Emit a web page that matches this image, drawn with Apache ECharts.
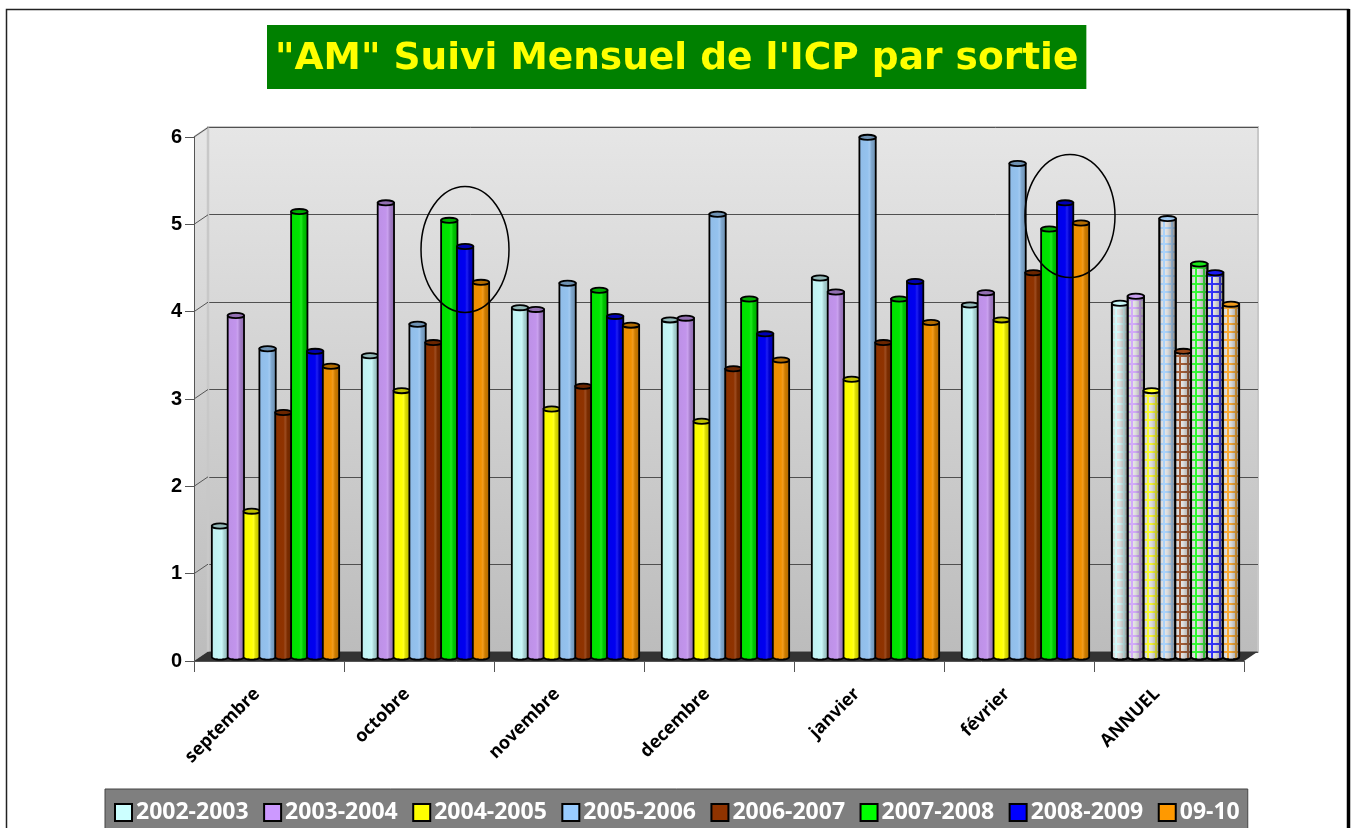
<!DOCTYPE html>
<html><head><meta charset="utf-8">
<style>html,body{margin:0;padding:0;background:#fff;overflow:hidden}#c{width:1353px;height:828px}</style>
<script src="https://cdn.jsdelivr.net/npm/echarts@6/dist/echarts.min.js"></script>
</head><body><div id="c"></div>
<script>
const categories = ['septembre','octobre','novembre','decembre','janvier','février','ANNUEL'];
const seriesNames = ['2002-2003','2003-2004','2004-2005','2005-2006','2006-2007','2007-2008','2008-2009','09-10'];
const v2002 = [1.50,3.45,4.00,3.86,4.34,4.03,4.05];
const v2003 = [3.91,5.20,3.98,3.88,4.18,4.17,4.13];
const v2004 = [1.67,3.05,2.84,2.70,3.18,3.86,3.05];
const v2005 = [3.53,3.81,4.28,5.07,5.95,5.65,5.02];
const v2006 = [2.80,3.60,3.10,3.30,3.60,4.40,3.50];
const v2007 = [5.10,5.00,4.20,4.10,4.10,4.90,4.50];
const v2008 = [3.50,4.70,3.90,3.70,4.30,5.20,4.40];
const v0910 = [3.33,4.29,3.80,3.40,3.83,4.97,4.04];
const allValues = [v2002,v2003,v2004,v2005,v2006,v2007,v2008,v0910];
const colors = ['#C4F6F6','#C294EC','#FFFF00','#94C2EE','#8F3300','#00E600','#0000F0','#F09000'];
const legendColors = ['#CCFFFF','#CC99FF','#FFFF00','#99CCFF','#8F3300','#00FF00','#0000FF','#FF9900'];
const yTicks = [0,1,2,3,4,5,6];
const patternCat = 'ANNUEL';

const chart = echarts.init(document.getElementById('c'), null, {renderer:'canvas'});
const G = echarts.graphic;

function shade(hex, f){
  const n = parseInt(hex.slice(1),16);
  const c = [n>>16,(n>>8)&255,n&255].map(x=> f<0 ? Math.round(x*(1+f)) : Math.round(x+(255-x)*f));
  return 'rgb('+c.join(',')+')';
}
function bodyGrad(col){
  return new G.LinearGradient(0,0,1,0,[
    {offset:0,color:shade(col,-0.03)},{offset:0.5,color:col},
    {offset:0.6,color:shade(col,0.12)},{offset:0.72,color:shade(col,-0.14)},
    {offset:1,color:shade(col,-0.3)}]);
}
function pattern(col){
  const cv = document.createElement('canvas'); cv.width = 8; cv.height = 8;
  const p = cv.getContext('2d');
  p.fillStyle = '#e2e2e2'; p.fillRect(0,0,8,8);
  p.globalAlpha = 0.85;
  p.fillStyle = col; p.fillRect(3,0,2,8); p.fillRect(0,3,3,2); p.fillRect(5,3,3,2);
  return {image:cv, repeat:'repeat'};
}
const shadeGrad = new G.LinearGradient(0,0,1,0,[
  {offset:0,color:'rgba(110,110,110,0.3)'},{offset:0.35,color:'rgba(255,255,255,0.05)'},{offset:0.6,color:'rgba(110,110,110,0.22)'},{offset:1,color:'rgba(40,40,40,0.6)'}]);

function cylinder(si){
  const col = colors[si];
  const pat = pattern(legendColors[si]);
  return function(params, api){
    const cat = api.value(0), val = api.value(1);
    const top = api.coord([cat,val]), base = api.coord([cat,0]);
    const band = api.size([1,0])[0];
    const slot = band*0.1057;
    const cx = top[0] + (si-3.5)*slot;
    const w = slot*1.03, rx = w/2, ry = 2.6;
    const pts = [[cx-rx,top[1]],[cx+rx,top[1]]];
    for(let a=0;a<=12;a++){ const t=a/12*Math.PI; pts.push([cx+rx*Math.cos(t), base[1]+ry*Math.sin(t)]); }
    const isPat = categories[cat]===patternCat;
    const stroke = {stroke:'#000',lineWidth:1.8};
    const kids = [
      {type:'polygon',shape:{points:pts},style:Object.assign({fill:isPat?pat:bodyGrad(col)},stroke)}
    ];
    if(isPat) kids.push({type:'polygon',shape:{points:pts},style:Object.assign({fill:shadeGrad},stroke)});
    kids.push({type:'ellipse',shape:{cx:cx,cy:top[1],rx:rx,ry:ry},style:Object.assign({fill:isPat?shade(col,0.1):shade(col,-0.25)},stroke)});
    return {type:'group',children:kids};
  };
}
function wallGrad(){
  return new G.LinearGradient(0,0,0,1,[{offset:0,color:'#e6e6e6'},{offset:1,color:'#bcbcbc'}]);
}
function axesBg(params, api){
  const c = params.coordSys, dx=14, dy=9.5;
  const x=c.x,y=c.y,w=c.width,h=c.height;
  return {type:'group',children:[
    {type:'polygon',shape:{points:[[x,y],[x+dx,y-dy],[x+dx,y+h-dy],[x,y+h]]},style:{fill:wallGrad()}},
    {type:'polygon',shape:{points:[[x,y+h],[x+dx,y+h-dy],[x+w+dx,y+h-dy],[x+w,y+h]]},style:{fill:'#333333'}},
    {type:'line',shape:{x1:x,y1:y,x2:x+dx,y2:y-dy},style:{stroke:'#c8c8c8',lineWidth:2}},
    {type:'line',shape:{x1:x+dx,y1:y-dy,x2:x+dx,y2:y+h-dy},style:{stroke:'#c8c8c8',lineWidth:2.5}}
  ]};
}
function diagTick(params, api){
  const c = params.coordSys, p = api.coord([0,api.value(0)]);
  return {type:'line',shape:{x1:c.x,y1:p[1],x2:c.x+14,y2:p[1]-9.5},style:{stroke:'#555',lineWidth:1}};
}
const hiddenCat = i=>({type:'category',gridIndex:i,data:categories,show:false,boundaryGap:true});
const hiddenVal = i=>({type:'value',gridIndex:i,min:0,max:6,interval:1,show:false});

const series = [
  {type:'custom',name:'_bg',xAxisIndex:1,yAxisIndex:1,z:2,silent:true,data:[0],renderItem:axesBg},
  {type:'custom',name:'_tick',xAxisIndex:1,yAxisIndex:1,z:2,silent:true,data:yTicks.slice(1),encode:{y:0},renderItem:diagTick}
];
seriesNames.forEach((name,si)=>{
  series.push({type:'custom',name:name,xAxisIndex:2,yAxisIndex:2,z:5,silent:true,
    itemStyle:{color:legendColors[si],borderColor:'#000',borderWidth:2},
    encode:{x:0,y:1},
    data:allValues[si].map((v,i)=>[i,v]),
    renderItem:cylinder(si)});
});

chart.setOption({
  animation:false,
  backgroundColor:'#fff',
  title:{text:'"AM" Suivi Mensuel de l\'ICP par sortie',left:267,top:25,
    backgroundColor:'#008000',padding:[14,8,10,8],
    textStyle:{color:'#FFFF00',fontFamily:'DejaVu Sans',fontWeight:'bold',fontSize:37.5,lineHeight:40}},
  legend:{data:seriesNames,left:105,top:789,orient:'horizontal',
    backgroundColor:'#7f7f7f',borderColor:'#444',borderWidth:1,padding:[12,8,12,9],
    itemWidth:17,itemHeight:17,itemGap:14.5,icon:'rect',selectedMode:false,
    textStyle:{color:'#fff',fontFamily:'Open Sans',fontWeight:'bold',fontSize:23,padding:[0,0,0,-1]}},
  grid:[
    {left:208,top:127,width:1050,height:525,show:true,borderColor:'#c8c8c8',borderWidth:2,backgroundColor:wallGrad()},
    {left:194,top:137,width:1050,height:524},
    {left:200.5,top:133,width:1050,height:524}
  ],
  xAxis:[
    hiddenCat(0),
    {type:'category',gridIndex:1,data:categories,z:3,boundaryGap:true,
      axisLine:{show:true,lineStyle:{color:'#555',width:1}},
      axisTick:{show:true,length:11,alignWithLabel:false,lineStyle:{color:'#555',width:1}},
      axisLabel:{interval:0,rotate:45,margin:18,color:'#000',fontFamily:'Open Sans',fontWeight:'bold',fontSize:18,padding:[0,17,0,0]}},
    hiddenCat(2)
  ],
  yAxis:[
    {type:'value',gridIndex:0,min:0,max:6,interval:1,z:1,axisLine:{show:false},axisTick:{show:false},axisLabel:{show:false},
      splitLine:{show:true,lineStyle:{color:'#505050',width:1}}},
    {type:'value',gridIndex:1,min:0,max:6,interval:1,z:3,
      axisLine:{show:true,lineStyle:{color:'#555',width:1}},
      axisTick:{show:true,length:9,lineStyle:{color:'#555',width:1}},
      axisLabel:{margin:12,color:'#000',fontFamily:'Liberation Sans',fontWeight:'bold',fontSize:20,padding:[5,0,0,0]},
      splitLine:{show:false}},
    hiddenVal(2)
  ],
  series:series,
  graphic:[
    {type:'rect',z:100,silent:true,shape:{x:6.5,y:9.5,width:1342,height:840},style:{fill:'none',stroke:'#222',lineWidth:1.5}},
    {type:'line',z:100,silent:true,shape:{x1:1348.5,y1:9,x2:1348.5,y2:828},style:{stroke:'#000',lineWidth:3.5}},
    {type:'ellipse',z:100,silent:true,shape:{cx:465,cy:249.5,rx:44,ry:63},style:{fill:'none',stroke:'#000',lineWidth:1.5}},
    {type:'ellipse',z:100,silent:true,shape:{cx:1070,cy:216,rx:45,ry:61.5},style:{fill:'none',stroke:'#000',lineWidth:1.5}}
  ]
});
</script></body></html>
